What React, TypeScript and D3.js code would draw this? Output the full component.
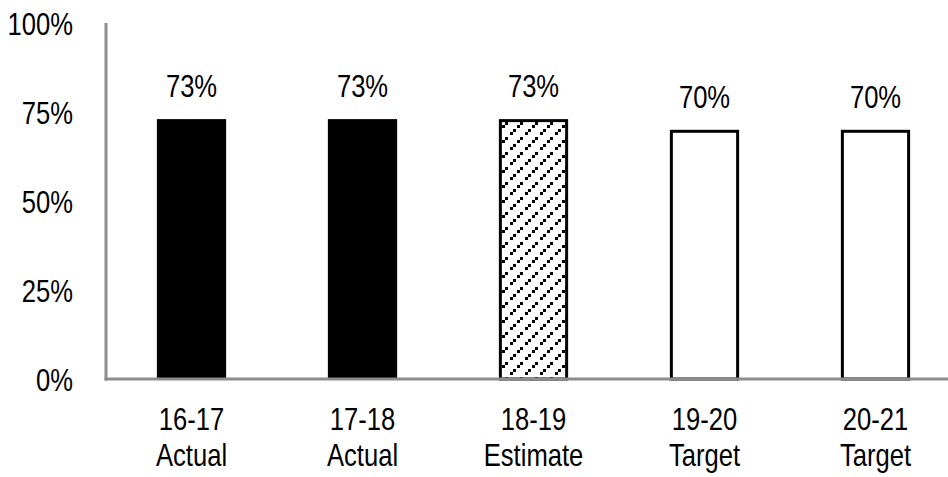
import React from "react";
import * as d3 from "d3";

const categories = ["16-17|Actual", "17-18|Actual", "18-19|Estimate", "19-20|Target", "20-21|Target"];
const values = [0.73, 0.73, 0.73, 0.70, 0.70];
const labels = ["73%", "73%", "73%", "70%", "70%"];
const styles = ["solid", "solid", "hatch", "outline", "outline"];
const yTicks = [0, 0.25, 0.5, 0.75, 1];

const W = 948, H = 477;
const FONT = "'Liberation Sans', Arial, sans-serif";
const SX = 0.8;

function NText({ x, y, anchor, children, dy }: { x: number; y: number; anchor: string; children: React.ReactNode; dy?: string }) {
  return (
    <text transform={`translate(${x},${y}) scale(${SX},1)`} dy={dy} textAnchor={anchor}
      fontFamily={FONT} fontSize={32} fill="#000">{children}</text>
  );
}

export default function App() {
  const x = d3.scaleBand<string>().domain(categories).range([106, 961]).paddingInner(0.595).paddingOuter(0.2975);
  const y = d3.scaleLinear().domain([0, 1]).range([379, 23]);
  const bw = x.bandwidth();
  return (
    <svg width={W} height={H} style={{ position: "absolute", left: 0, top: 0, background: "#fff" }}>
      <defs>
        <pattern id="hatch" width="15" height="15" patternUnits="userSpaceOnUse">
          <rect width="15" height="15" fill="#fff" />
          <rect x="0" y="12" width="3" height="3" fill="#000" />
          <rect x="3" y="9" width="3" height="3" fill="#000" />
          <rect x="7" y="5" width="3" height="3" fill="#000" />
          <rect x="10" y="2" width="3" height="3" fill="#000" />
        </pattern>
      </defs>
      {categories.map((c, i) => {
        const x0 = x(c)!;
        const top = y(values[i]);
        const st = styles[i];
        const sw = st === "solid" ? 0 : 3;
        return (
          <rect key={c}
            x={x0 + sw / 2} y={top + sw / 2}
            width={bw - sw} height={y(0) - top - sw / 2}
            fill={st === "solid" ? "#000" : st === "hatch" ? "url(#hatch)" : "#fff"}
            stroke={st === "solid" ? "none" : "#000"} strokeWidth={sw} />
        );
      })}
      <line x1={106} x2={106} y1={23} y2={380.5} stroke="#8c8c8c" strokeWidth={3} />
      <line x1={104.5} x2={948} y1={379} y2={379} stroke="#8c8c8c" strokeWidth={3} />
      {yTicks.map(t => (
        <NText key={t} x={73} y={y(t)} dy="0.36em" anchor="end">{d3.format(".0%")(t)}</NText>
      ))}
      {categories.map((c, i) => (
        <NText key={c + "v"} x={x(c)! + bw / 2} y={y(values[i]) - 22} anchor="middle">{labels[i]}</NText>
      ))}
      {categories.map(c => {
        const [a, b] = c.split("|");
        const cx = x(c)! + bw / 2;
        return (
          <g key={c + "c"}>
            <NText x={cx} y={430} anchor="middle">{a}</NText>
            <NText x={cx} y={466} anchor="middle">{b}</NText>
          </g>
        );
      })}
    </svg>
  );
}
